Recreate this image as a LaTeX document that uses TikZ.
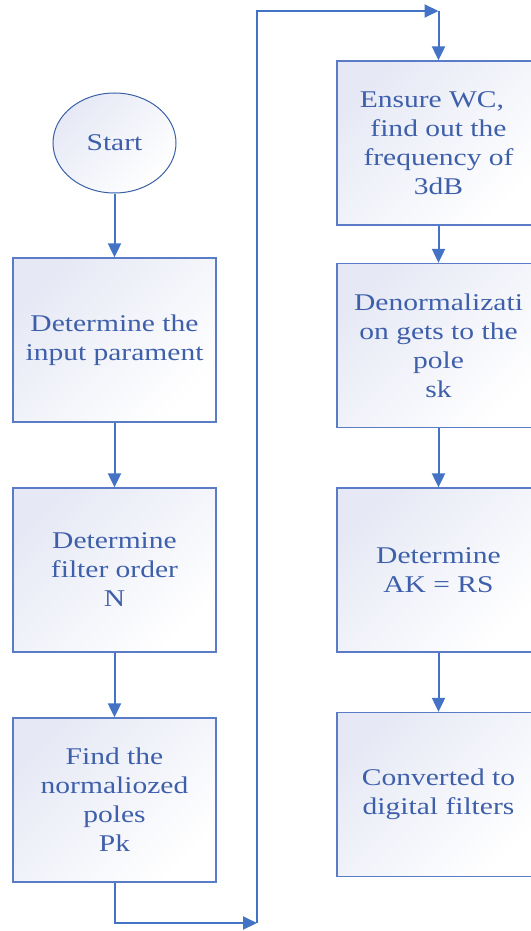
\documentclass[tikz,border=0pt]{standalone}
\usepackage{fontspec}
\setmainfont[FakeStretch=1.23]{Liberation Serif}
\usetikzlibrary{arrows.meta,shapes.geometric}
\definecolor{linec}{HTML}{4472C4}
\definecolor{edgec}{HTML}{5A7CC6}
\definecolor{textc}{HTML}{3E5FAA}
\definecolor{fillc}{HTML}{E6E9F5}
\tikzset{
  boxnode/.style={draw=edgec, line width=1.3pt, rectangle, minimum width=203pt, minimum height=164pt,
    inner sep=0pt, top color=fillc, bottom color=white, shading angle=45,
    text=textc, align=center, font=\fontsize{24pt}{29pt}\selectfont},
  startnode/.style={draw=linec!85!black, line width=1pt, ellipse, minimum width=123pt, minimum height=100pt,
    inner sep=0pt, top color=fillc, bottom color=white, shading angle=45,
    text=textc, font=\fontsize{24pt}{29pt}\selectfont},
  conn/.style={draw=linec, line width=2pt, -{Triangle[length=14pt,width=13pt]}}
}
\begin{document}
\begin{tikzpicture}[x=1pt,y=-1pt]
\useasboundingbox (0,0) rectangle (530,931);
\node[startnode] (start) at (114.5,143) {Start};
\node[boxnode] (b1) at (114.5,340) {Determine the\\input parament};
\node[boxnode] (b2) at (114.5,570) {Determine\\filter order\\N};
\node[boxnode] (b3) at (114.5,800) {Find the\\normaliozed\\poles\\Pk};
\node[boxnode] (r1) at (438.5,143) {Ensure WC,\kern0.55em\\find out the\\frequency of\\3dB};
\node[boxnode] (r2) at (438.5,345.5) {Denormalizati\\on gets to the\\pole\\sk};
\node[boxnode] (r3) at (438.5,570) {Determine\\AK = RS};
\node[boxnode] (r4) at (438.5,794.5) {Converted to\\digital filters};
\coordinate (p1) at (257,923);
\coordinate (p2) at (257,11);
\coordinate (p3) at (438.5,11);
\draw[conn] (start) -- (b1);
\draw[conn] (b1) -- (b2);
\draw[conn] (b2) -- (b3);
\draw[conn] (b3.south) |- (p1);
\draw[conn] (p1) -- (p2) -- (p3);
\draw[conn] (p3) -- (r1.north);
\draw[conn] (r1) -- (r2);
\draw[conn] (r2) -- (r3);
\draw[conn] (r3) -- (r4);
\end{tikzpicture}
\end{document}
